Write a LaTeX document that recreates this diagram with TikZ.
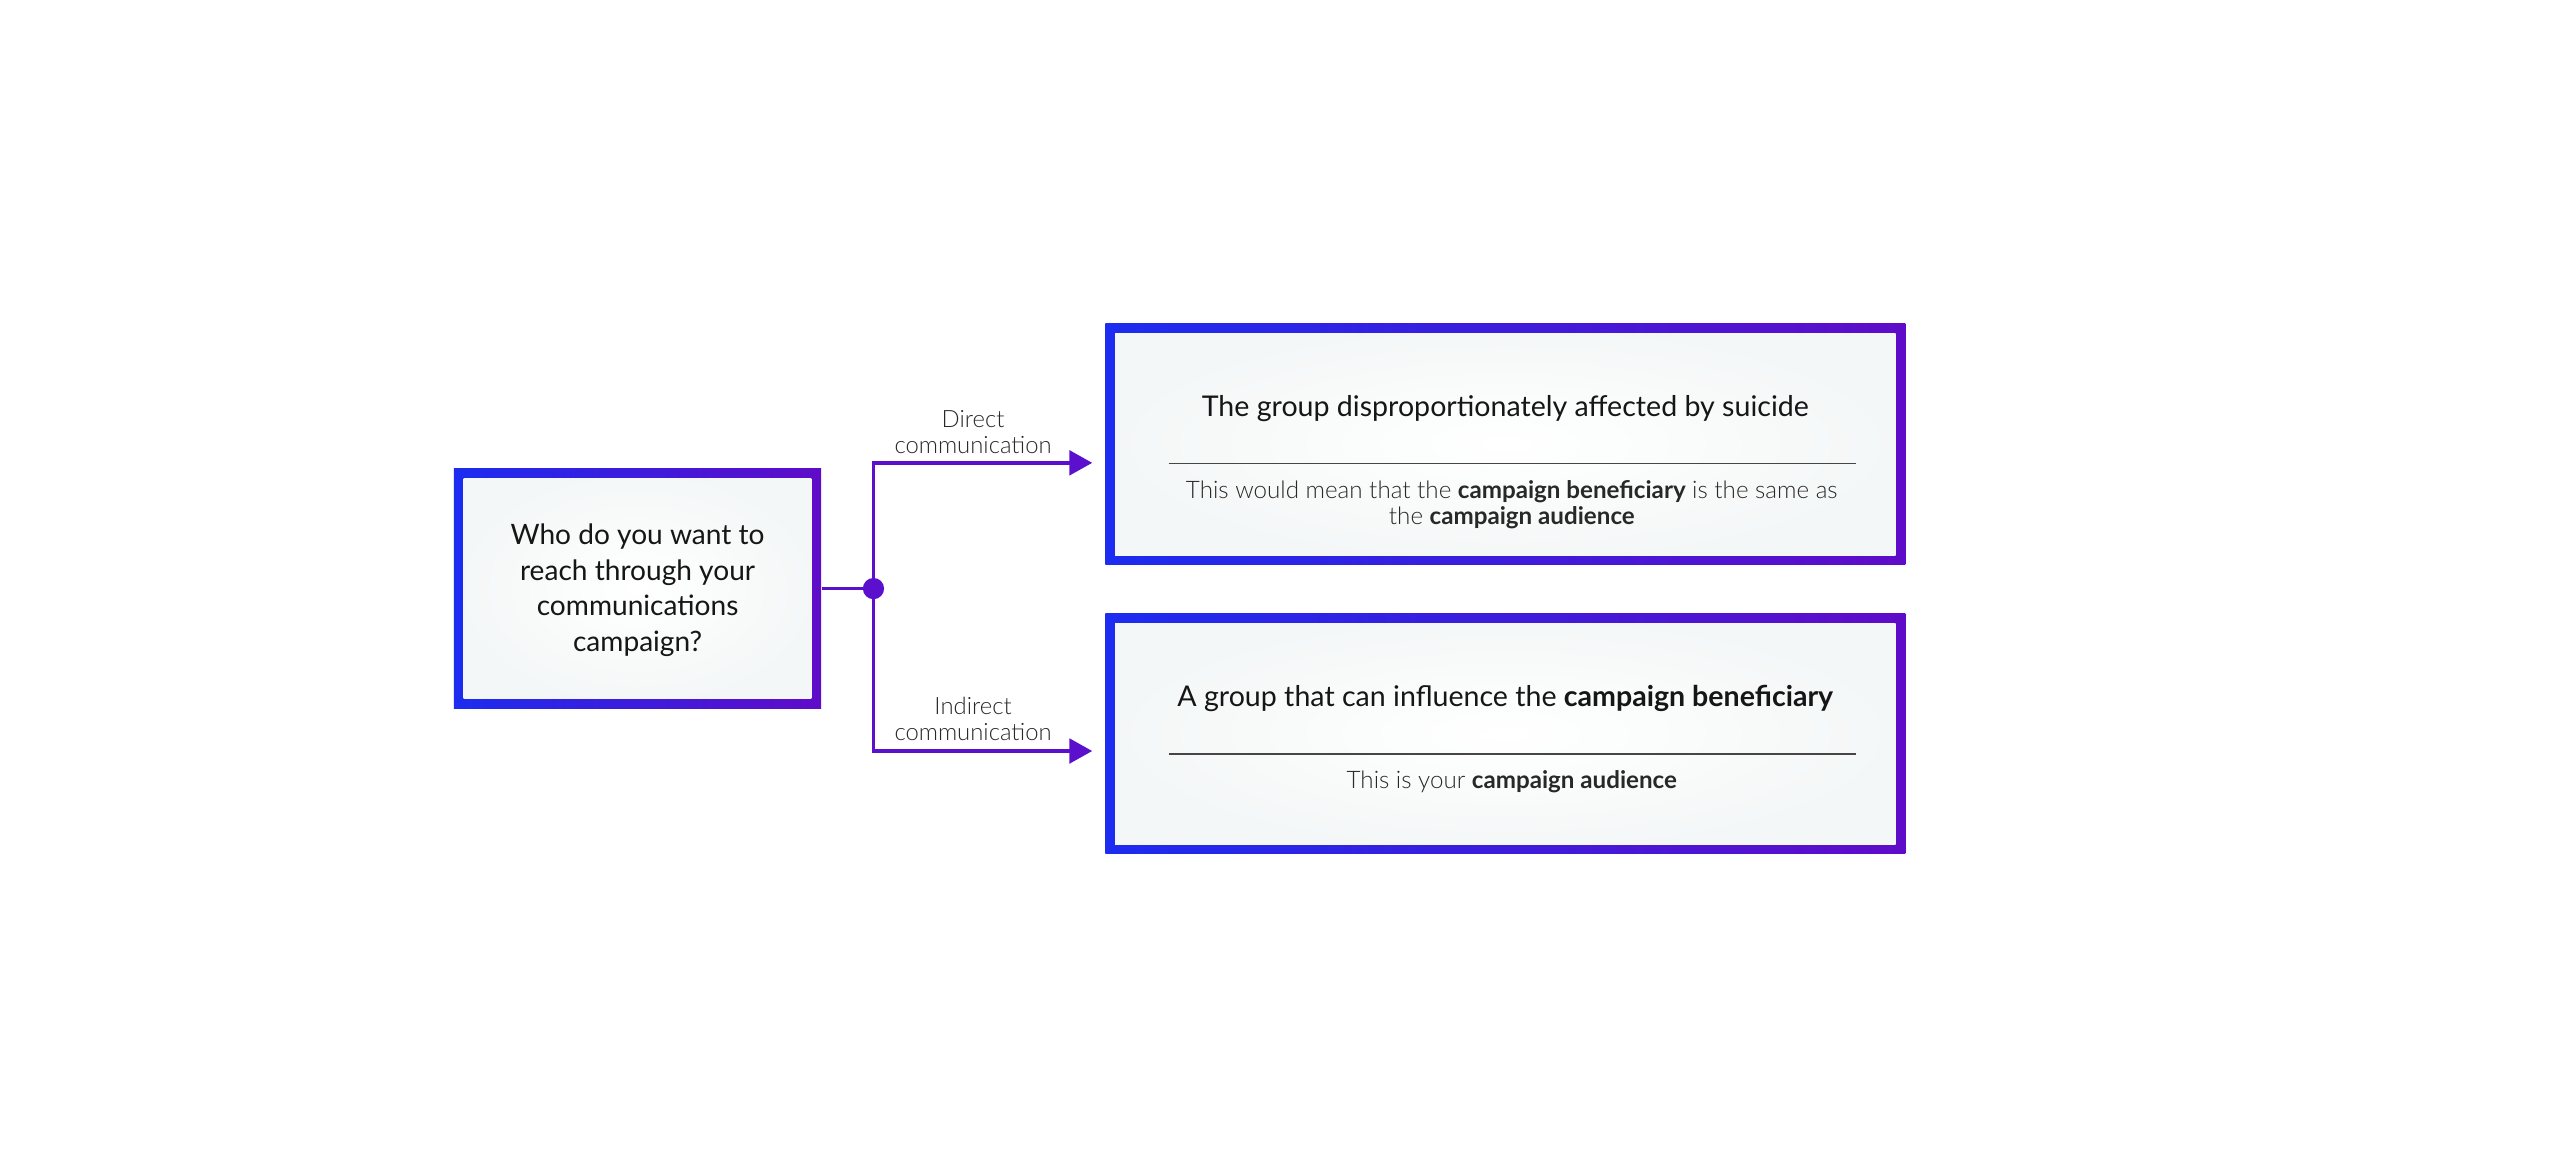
\documentclass[tikz,border=0pt]{standalone}
\usepackage{fontspec}
\setmainfont{Lato}
\newfontfamily\lightfont{Lato Light}[BoldFont={Lato Bold}]
\usetikzlibrary{arrows.meta,calc}
\definecolor{cblue}{RGB}{28,44,240}
\definecolor{cpurp}{RGB}{95,12,200}
\definecolor{cline}{RGB}{90,16,204}
\definecolor{boxfill}{RGB}{244,247,247}
\definecolor{txt}{RGB}{22,22,22}
\definecolor{txtl}{RGB}{40,40,40}
\definecolor{sep}{RGB}{70,70,70}
\tikzset{
  gbox/.style={rectangle, inner sep=0pt, shade, shading angle=90,
    left color=cblue, right color=cpurp,
    path picture={
      \shade[inner color=white, outer color=boxfill]
        ($(path picture bounding box.north west)+(6pt,-6pt)$) rectangle
        ($(path picture bounding box.south east)+(-6pt,6pt)$);
    }},
  qtext/.style={font=\fontsize{17.2}{22}\selectfont, text=txt, align=center},
  ttext/.style={font=\fontsize{17.5}{20}\selectfont, text=txt, align=center},
  stext/.style={font=\lightfont\fontsize{14.8}{16}\selectfont, text=txtl, align=center},
  ltext/.style={font=\lightfont\fontsize{14.6}{16}\selectfont, text=txtl, align=center},
  conn/.style={draw=cline, line width=2.2pt},
  arr/.style={conn, -{Triangle[length=14pt,width=15pt]}},
  sepline/.style={draw=sep, line width=1pt},
}
\begin{document}
\begin{tikzpicture}[x=1pt,y=-1pt]
\useasboundingbox[fill=white] (0,0) rectangle (1568,705.6);
% boxes
\node[gbox, minimum width=225pt, minimum height=147pt] (q) at (390.5,360.5) {};
\node[qtext] (qt) at (390.5,361.5) {Who do you want to\\reach through your\\communications\\campaign?};
\node[gbox, minimum width=490pt, minimum height=148pt] (tb) at (922,272) {};
\node[gbox, minimum width=490pt, minimum height=147pt] (bb) at (922,449.5) {};
% top box texts
\node[ttext] (t1) at (922,250.5) {The group disproportionately affected by suicide};
\coordinate (s1a) at (716,284);
\coordinate (s1b) at (1137,284);
\draw[sepline] (s1a) -- (s1b);
\node[stext] (t2) at (926,309) {This would mean that the \textbf{campaign beneficiary} is the same as\\the \textbf{campaign audience}};
% bottom box texts
\node[ttext] (b1) at (922,428) {A group that can influence the \textbf{campaign beneficiary}};
\coordinate (s2a) at (716,462);
\coordinate (s2b) at (1137,462);
\draw[sepline] (s2a) -- (s2b);
\node[stext] (b2) at (926,479) {This is your \textbf{campaign audience}};
% connectors
\node[circle, fill=cline, minimum size=13pt, inner sep=0pt] (j) at (535,360.5) {};
\coordinate (a1) at (669,283.5);
\coordinate (a2) at (669,460);
\draw[conn] (q.east) -- (j);
\draw[arr] (j.center) |- (a1);
\draw[arr] (j.center) |- (a2);
\node[ltext] (l1) at (596,264.5) {Direct\\communication};
\node[ltext] (l2) at (596,440.5) {Indirect\\communication};
\end{tikzpicture}
\end{document}
